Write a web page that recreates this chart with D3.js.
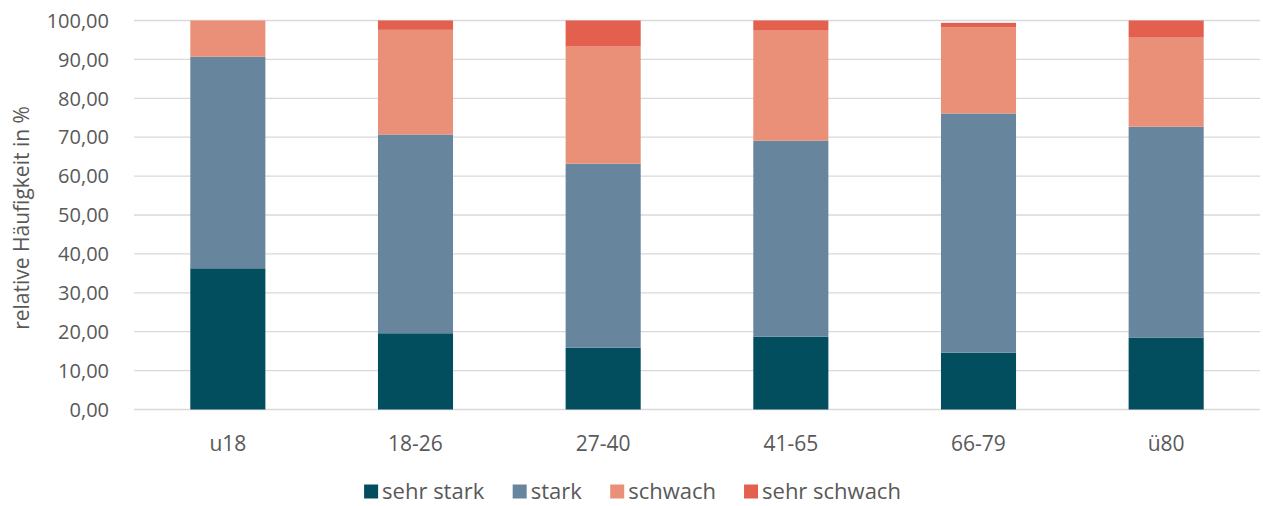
<!DOCTYPE html>
<html><head><meta charset="utf-8">
<script src="https://cdn.jsdelivr.net/npm/d3@7"></script>
<style>body{margin:0;background:#fff;} svg{display:block;font-family:"Open Sans",sans-serif;}</style>
</head><body>
<svg id="c" width="1263" height="506"></svg>
<script>
const categories = ["u18","18-26","27-40","41-65","66-79","ü80"];
const seriesNames = ["sehr stark","stark","schwach","sehr schwach"];
const sehrStark   = [36.3, 19.6, 15.9, 18.7, 14.6, 18.5];
const stark       = [54.4, 51.1, 47.3, 50.4, 61.5, 54.2];
const schwach     = [9.3, 26.9, 30.1, 28.3, 22.2, 22.9];
const sehrSchwach = [0.0, 2.4, 6.7, 2.6, 1.1, 4.4];
const yTicks = [0,10,20,30,40,50,60,70,80,90,100];
const colors = ["#024e5f","#67869d","#ea9078","#e35f4e"];

const svg = d3.select("#c");
const W = 1263, H = 506;
const m = {left:134, right:3, top:20.5, bottom:96.5};
const x = d3.scaleBand().domain(categories).range([m.left, W - m.right]).padding(0);
const y = d3.scaleLinear().domain([0,100]).range([H - m.bottom, m.top]);

// gridlines
svg.append("g").selectAll("line").data(yTicks).join("line")
  .attr("x1", m.left).attr("x2", W - m.right)
  .attr("y1", d => y(d)).attr("y2", d => y(d))
  .attr("stroke", "#d9d9d9").attr("stroke-width", 1.3);

// y axis labels
const fmt = d => d3.format(".2f")(d).replace(".", ",");
svg.append("g").selectAll("text").data(yTicks).join("text")
  .attr("x", 109).attr("y", d => y(d)).attr("dy", "0.36em")
  .attr("text-anchor", "end").attr("fill", "#595959").attr("font-size", 20)
  .text(fmt);

// y title
svg.append("text")
  .attr("transform", `translate(29,${(y(0)+y(100))/2 + 3}) rotate(-90)`)
  .attr("text-anchor", "middle").attr("fill", "#595959").attr("font-size", 21)
  .text("relative Häufigkeit in %");

// stacked data
const rows = categories.map((c,i) => ({cat:c, "sehr stark":sehrStark[i], "stark":stark[i], "schwach":schwach[i], "sehr schwach":sehrSchwach[i]}));
const stack = d3.stack().keys(seriesNames)(rows);
const bw = x.bandwidth() * 0.4;
svg.append("g").selectAll("g").data(stack).join("g")
  .attr("fill", (d,i) => colors[i])
  .selectAll("rect").data(d => d).join("rect")
  .attr("x", d => x(d.data.cat) + (x.bandwidth() - bw)/2)
  .attr("width", bw)
  .attr("y", d => y(d[1]))
  .attr("height", d => Math.max(0, y(d[0]) - y(d[1])));

// x labels
svg.append("g").selectAll("text").data(categories).join("text")
  .attr("x", d => x(d) + x.bandwidth()/2).attr("y", y(0) + 41.5)
  .attr("text-anchor", "middle").attr("fill", "#595959").attr("font-size", 21)
  .text(d => d);

// legend
const lg = svg.append("g");
let lx = 0;
const gap = 28;
const items = lg.selectAll("g").data(seriesNames).join("g");
items.append("rect").attr("width", 14).attr("height", 14).attr("y", -14).attr("fill", (d,i) => colors[i]);
items.append("text").attr("x", 18).attr("y", 0).attr("fill", "#595959").attr("font-size", 22).text(d => d);
items.each(function(){
  const g = d3.select(this);
  g.attr("transform", `translate(${lx},0)`);
  lx += this.getBBox().width + gap;
});
lx -= gap;
lg.attr("transform", `translate(${(W - lx)/2 + 1},${y(0) + 89})`);
</script>
</body></html>
